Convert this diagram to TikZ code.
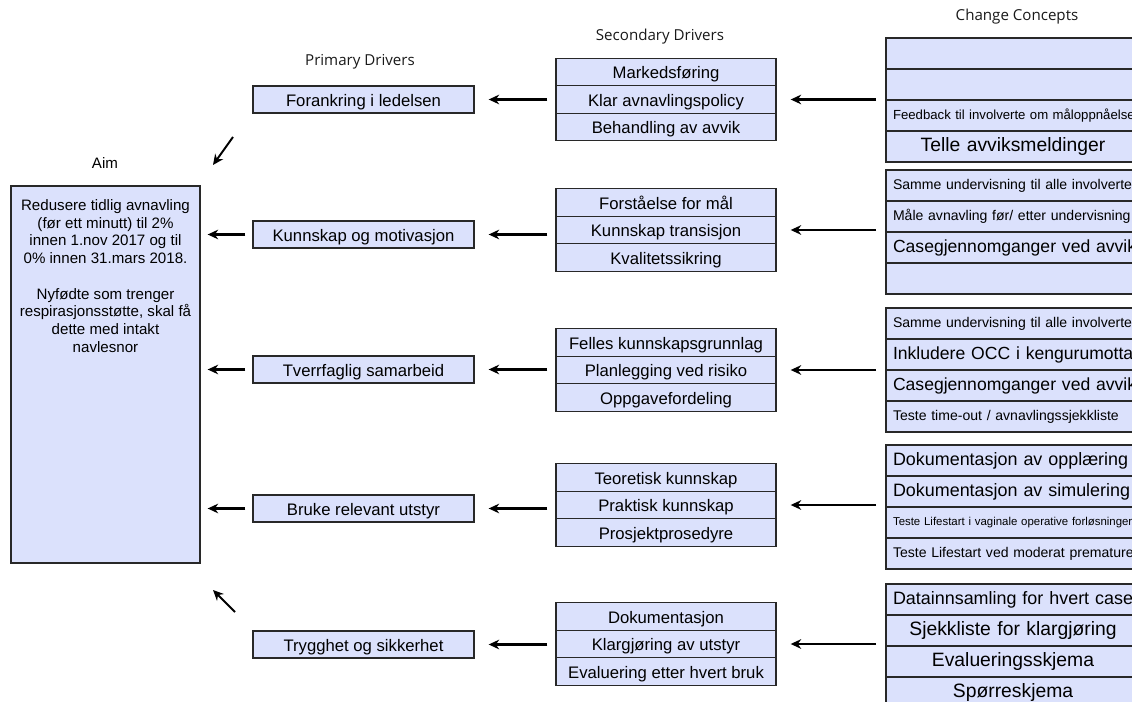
\documentclass[tikz,border=0pt]{standalone}
\usepackage{fontspec}
\setmainfont{Liberation Sans}
\newfontfamily\headfont{Open Sans}
\usepackage{tikz}
\usetikzlibrary{arrows.meta}
\definecolor{boxblue}{RGB}{219,225,252}
\definecolor{edge}{RGB}{40,40,40}

\begin{document}
\begin{tikzpicture}[x=0.02cm, y=-0.02cm,
  head/.style={font=\headfont\fontsize{8.6}{10}\selectfont, text=black!90},
  pbox/.style={shape=rectangle, draw=edge, fill=boxblue, line width=0.8pt, minimum width=4.42cm, minimum height=0.54cm, inner sep=0pt, text height=8.5pt, text depth=1pt, font=\fontsize{9.5}{11}\selectfont},
  sbox/.style={pbox, minimum width=4.4cm, minimum height=0.55cm},
  cbox/.style={shape=rectangle, draw=edge, fill=boxblue, line width=1pt, minimum width=5.08cm, minimum height=0.62cm, inner xsep=0.14cm, inner ysep=0pt, text width=4.8cm},
  ccl/.style={cbox, align=left},
  ccc/.style={cbox, align=center},
  arr/.style={-{Stealth[length=6pt, width=5.5pt, inset=2pt]}, line width=1.4pt},
  ccarr/.style={arr, shorten <=0.18cm, shorten >=0.28cm},
  sarr/.style={arr, shorten <=0.16cm, shorten >=0.28cm},
  parr/.style={arr, shorten <=0.14cm, shorten >=0.14cm}
]
\useasboundingbox (0, 0) rectangle (1132, 702);
\clip (0, 0) rectangle (1132, 702);

\node at (1017, 17) [head] (cctitle) {Change Concepts};
\node at (660, 37) [head] (sdtitle) {Secondary Drivers};
\node at (360, 62) [head] (pdtitle) {Primary Drivers};
\node at (105, 163) [font=\fontsize{8.6}{10}\selectfont] (aimtitle) {Aim};

\node at (105.5, 374.5) [pbox, minimum width=3.78cm, minimum height=7.54cm] (aim) {};
\node at (105.5, 199) [anchor=north, inner sep=0pt, align=center, font=\fontsize{8.6}{10.1}\selectfont] (aimtext) {Redusere tidlig avnavling\\(før ett minutt) til 2\%\\innen 1.nov 2017 og til\\0\% innen 31.mars 2018.\\[10.1pt]Nyfødte som trenger\\respirasjonsstøtte, skal få\\dette med intakt\\navlesnor};

\node at (363.5, 99.5) [pbox] (pri1) {Forankring i ledelsen};
\node at (363.5, 234.5) [pbox] (pri2) {Kunnskap og motivasjon};
\node at (363.5, 369.5) [pbox] (pri3) {Tverrfaglig samarbeid};
\node at (363.5, 508.5) [pbox] (pri4) {Bruke relevant utstyr};
\node at (363.5, 644.5) [pbox] (pri5) {Trygghet og sikkerhet};

\node at (666, 72) [sbox] (sec1a) {Markedsføring};
\node at (666, 99.5) [sbox] (sec1b) {Klar avnavlingspolicy};
\node at (666, 127) [sbox] (sec1c) {Behandling av avvik};
\node at (666, 202.5) [sbox] (sec2a) {Forståelse for mål};
\node at (666, 230) [sbox] (sec2b) {Kunnskap transisjon};
\node at (666, 257.5) [sbox] (sec2c) {Kvalitetssikring};
\node at (666, 342.5) [sbox] (sec3a) {Felles kunnskapsgrunnlag};
\node at (666, 370) [sbox] (sec3b) {Planlegging ved risiko};
\node at (666, 397.5) [sbox] (sec3c) {Oppgavefordeling};
\node at (666, 477.5) [sbox] (sec4a) {Teoretisk kunnskap};
\node at (666, 505) [sbox] (sec4b) {Praktisk kunnskap};
\node at (666, 532.5) [sbox] (sec4c) {Prosjektprosedyre};
\node at (666, 616.5) [sbox] (sec5a) {Dokumentasjon};
\node at (666, 644) [sbox] (sec5b) {Klargjøring av utstyr};
\node at (666, 671.5) [sbox] (sec5c) {Evaluering etter hvert bruk};

\node at (1013, 53.5) [ccl] (cc1a) {};
\node at (1013, 84.5) [ccl] (cc1b) {};
\node at (1013, 115.5) [ccl, font=\fontsize{7.5}{9}\selectfont] (cc1c) {\mbox{Feedback til involverte om måloppnåelse}};
\node at (1013, 146.5) [ccc, font=\fontsize{11}{13}\selectfont] (cc1d) {Telle avviksmeldinger};

\node at (1013, 185.5) [ccl, font=\fontsize{8}{9}\selectfont] (cc2a) {\mbox{Samme undervisning til alle involverte}};
\node at (1013, 216.5) [ccl, font=\fontsize{8}{9}\selectfont] (cc2b) {\mbox{Måle avnavling før/ etter undervisning}};
\node at (1013, 247.5) [ccl, font=\fontsize{10}{12}\selectfont] (cc2c) {\mbox{Casegjennomganger ved avvik}};
\node at (1013, 278.5) [ccl] (cc2d) {};

\node at (1013, 323.5) [ccl, font=\fontsize{8}{9}\selectfont] (cc3a) {\mbox{Samme undervisning til alle involverte}};
\node at (1013, 354.5) [ccl, font=\fontsize{10}{12}\selectfont] (cc3b) {\mbox{Inkludere OCC i kengurumottak}};
\node at (1013, 385.5) [ccl, font=\fontsize{10}{12}\selectfont] (cc3c) {\mbox{Casegjennomganger ved avvik}};
\node at (1013, 416.5) [ccl, font=\fontsize{8}{9}\selectfont] (cc3d) {\mbox{Teste time-out / avnavlingssjekkliste}};

\node at (1013, 460.5) [ccl, font=\fontsize{10.2}{12}\selectfont] (cc4a) {\mbox{Dokumentasjon av opplæring}};
\node at (1013, 491.5) [ccl, font=\fontsize{10.2}{12}\selectfont] (cc4b) {\mbox{Dokumentasjon av simulering}};
\node at (1013, 522.5) [ccl, font=\fontsize{6.5}{8}\selectfont] (cc4c) {\mbox{Teste Lifestart i vaginale operative forløsninger}};
\node at (1013, 553.5) [ccl, font=\fontsize{8}{9}\selectfont] (cc4d) {\mbox{Teste Lifestart ved moderat premature}};

\node at (1013, 599.5) [ccl, font=\fontsize{10.2}{12}\selectfont] (cc5a) {\mbox{Datainnsamling for hvert case}};
\node at (1013, 630.5) [ccc, font=\fontsize{11}{13}\selectfont] (cc5b) {Sjekkliste for klargjøring};
\node at (1013, 661.5) [ccc, font=\fontsize{11}{13}\selectfont] (cc5c) {Evalueringsskjema};
\node at (1013, 692.5) [ccc, font=\fontsize{11}{13}\selectfont] (cc5d) {Spørreskjema};

\draw [ccarr] (cc1a.west |- sec1b) to (sec1b.east);
\draw [ccarr] (cc2a.west |- sec2b) to (sec2b.east);
\draw [ccarr] (cc3a.west |- sec3b) to (sec3b.east);
\draw [ccarr] (cc4a.west |- sec4b) to (sec4b.east);
\draw [ccarr] (cc5a.west |- sec5b) to (sec5b.east);

\draw [sarr] (sec1b.west |- pri1) to (pri1.east);
\draw [sarr] (sec2b.west |- pri2) to (pri2.east);
\draw [sarr] (sec3b.west |- pri3) to (pri3.east);
\draw [sarr] (sec4b.west |- pri4) to (pri4.east);
\draw [sarr] (sec5b.west |- pri5) to (pri5.east);

\draw [parr] (pri2.west) to (pri2.west -| aim.east);
\draw [parr] (pri3.west) to (pri3.west -| aim.east);
\draw [parr] (pri4.west) to (pri4.west -| aim.east);

\coordinate (top1) at (233, 137);
\coordinate (top2) at (213, 165);
\coordinate (bot1) at (235, 612);
\coordinate (bot2) at (213, 590);
\draw [arr, line width=1.1pt] (top1) to (top2);
\draw [arr, line width=1.1pt] (bot1) to (bot2);
\end{tikzpicture}
\end{document}
